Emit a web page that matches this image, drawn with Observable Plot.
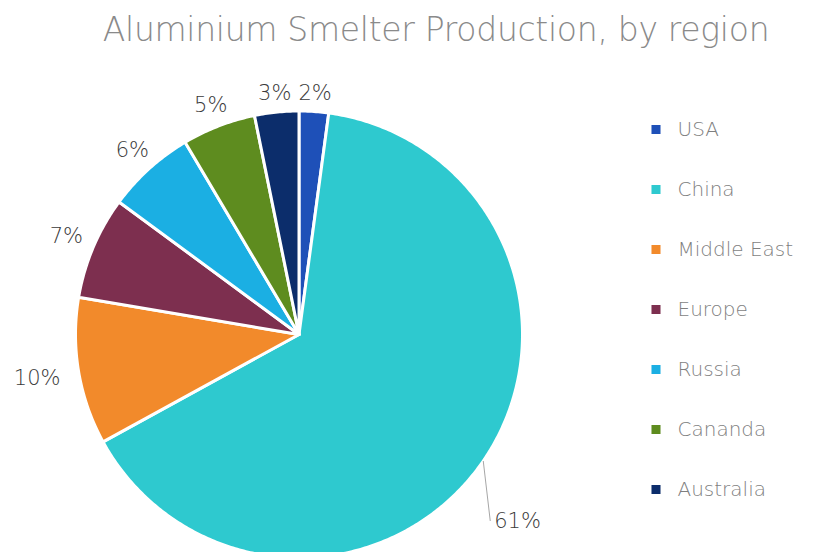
<!DOCTYPE html>
<html>
<head>
<meta charset="utf-8">
<script src="https://cdn.jsdelivr.net/npm/d3@7"></script>
<script src="https://cdn.jsdelivr.net/npm/@observablehq/plot@0.6"></script>
<style>
  html, body { margin: 0; padding: 0; background: #fff; }
  #wrap { position: relative; width: 824px; height: 552px; overflow: hidden; }
  #title { position: absolute; left: 0; top: 10px; width: 872px; text-align: center; white-space: nowrap;
    font-family: "DejaVu Sans", sans-serif; font-weight: 200; font-size: 33px; color: #8a8a8a; letter-spacing: -0.3px; }
  #pie { position: absolute; left: 0; top: 0; }
  #legend { position: absolute; left: 640px; top: 0; }
</style>
</head>
<body>
<div id="wrap">
  <div id="pie"></div>
  <div id="legend"></div>
  <div id="title">Aluminium Smelter Production, by region</div>
</div>
<script>
const regions = ["USA", "China", "Middle East", "Europe", "Russia", "Cananda", "Australia"];
const shares = [2, 61, 10, 7, 6, 5, 3];
const colors = ["#1e50b8", "#2ec9cf", "#f28a2b", "#7d2f4f", "#1bafe3", "#5e8c1f", "#0c2d6b"];

// layout (pixels)
const W = 824, H = 552, cx = 298.5, cy = 334, R = 223.5;

const arcs = d3.pie().sort(null).value(d => d)(shares);

// polygon points in unit-circle space (y up)
const pts = [];
arcs.forEach((a, i) => {
  const n = Math.max(2, Math.ceil((a.endAngle - a.startAngle) / 0.01));
  pts.push({region: regions[i], x: 0, y: 0});
  for (let k = 0; k <= n; k++) {
    const t = a.startAngle + (a.endAngle - a.startAngle) * k / n;
    pts.push({region: regions[i], x: Math.sin(t), y: Math.cos(t)});
  }
  pts.push({region: regions[i], x: 0, y: 0});
});

// labels
const outLabels = [];
const leaderLabels = [];
const leader = [];
arcs.forEach((a, i) => {
  const m = (a.startAngle + a.endAngle) / 2;
  const s = Math.sin(m), c = Math.cos(m);
  const text = shares[i] + "%";
  if (shares[i] > 50) {
    // leader-line label for the dominant slice
    const lx = s + 7 / R, ly = c - 60 / R;
    leader.push({x1: s, y1: c, x2: lx, y2: ly});
    leaderLabels.push({text, x: lx, y: ly});
  } else {
    const off = 8 + 11.5 * Math.abs(s) * text.length + 9 * Math.pow(Math.abs(c), 6);
    outLabels.push({text, x: s * (1 + off / R), y: c * (1 + off / R)});
  }
});

const labelStyle = {fill: "#3a3a3a", fontSize: 21, fontFamily: "DejaVu Sans", fontWeight: 300};

const pie = Plot.plot({
  width: W, height: H,
  margin: 0,
  x: {domain: [-cx / R, (W - cx) / R], range: [0, W], axis: null},
  y: {domain: [cy / R, (cy - H) / R], range: [0, H], axis: null},
  color: {domain: regions, range: colors},
  style: {background: "transparent"},
  marks: [
    Plot.line(pts, {x: "x", y: "y", z: "region", fill: "region", stroke: "white", strokeWidth: 3, curve: "linear"}),
    Plot.link(leader, {x1: "x1", y1: "y1", x2: "x2", y2: "y2", stroke: "#a6a6a6", strokeWidth: 1}),
    Plot.text(outLabels, {x: "x", y: "y", text: "text", textAnchor: "middle", ...labelStyle}),
    Plot.text(leaderLabels, {x: "x", y: "y", text: "text", textAnchor: "start", dx: 4, ...labelStyle})
  ]
});
document.getElementById("pie").appendChild(pie);

const legend = Plot.plot({
  width: 184, height: H,
  marginLeft: 15.5, marginRight: 0, marginTop: 0, marginBottom: 0,
  y: {type: "point", domain: regions, range: [128, 490], padding: 0, axis: null},
  color: {domain: regions, range: colors},
  marks: [
    Plot.dot(regions, {y: d => d, frameAnchor: "left", symbol: "square", r: 5.1, fill: d => d}),
    Plot.text(regions, {y: d => d, text: d => d, frameAnchor: "left", dx: 21.5, textAnchor: "start",
      fill: "#7f7f7f", fontSize: 20, fontFamily: "DejaVu Sans", fontWeight: 300})
  ]
});
document.getElementById("legend").appendChild(legend);
</script>
</body>
</html>
